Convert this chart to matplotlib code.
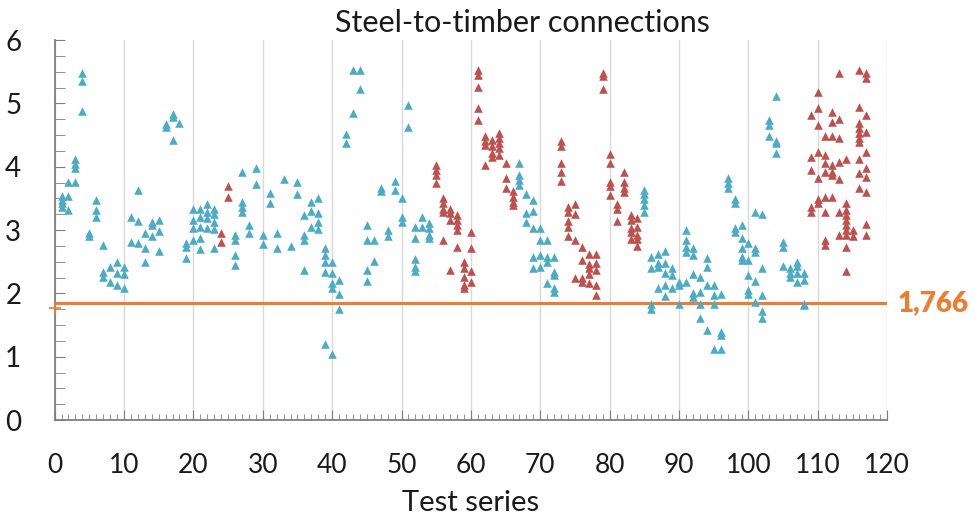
import matplotlib
matplotlib.use("Agg")
import matplotlib.pyplot as plt
from matplotlib.ticker import MultipleLocator

# ── Data: ratio per test series ──────────────────────────────────────
blue_points = {
    1: [3.54, 3.48, 3.42, 3.37], 2: [3.76, 3.54, 3.32], 3: [4.12, 4.05, 3.98, 3.76],
    4: [5.48, 5.36, 4.88], 5: [2.95, 2.91], 6: [3.47, 3.32, 3.20],
    7: [2.76, 2.34, 2.26], 8: [2.42, 2.18], 9: [2.50, 2.32, 2.14],
    10: [2.42, 2.30, 2.08], 11: [3.21, 2.82], 12: [3.63, 3.15, 2.79],
    13: [2.96, 2.72, 2.49], 14: [3.13, 3.08, 2.90], 15: [3.16, 2.99, 2.67],
    16: [4.68, 4.63], 17: [4.83, 4.78, 4.42], 18: [4.69],
    19: [2.79, 2.74, 2.56], 20: [3.33, 3.16, 3.03, 2.85],
    21: [3.34, 3.21, 3.05, 2.87, 2.70], 22: [3.41, 3.29, 3.19, 3.03],
    23: [3.34, 3.26, 3.13, 3.01, 2.72], 26: [2.92, 2.84, 2.61, 2.45],
    27: [3.92, 3.45, 3.37, 3.29], 28: [3.08, 2.96], 29: [3.98, 3.72],
    30: [2.92, 2.78], 31: [3.58, 3.43], 32: [2.95, 2.72], 33: [3.81],
    34: [2.75], 35: [3.76, 3.57], 36: [3.24, 2.92, 2.84, 2.37],
    37: [3.45, 3.30, 3.05], 38: [3.50, 3.27, 3.13, 3.02],
    39: [2.72, 2.61, 2.50, 2.34, 1.21], 40: [2.50, 2.32, 2.16, 2.08, 1.05],
    41: [2.21, 1.99, 1.75], 42: [4.52, 4.37], 43: [5.53, 4.85], 44: [5.53, 5.23],
    45: [3.08, 2.85, 2.37, 2.20], 46: [2.85, 2.51], 47: [3.66, 3.61],
    48: [3.00, 2.90], 49: [3.78, 3.63], 50: [3.50, 3.21, 3.12], 51: [4.97, 4.63],
    52: [3.05, 2.88, 2.55, 2.42, 2.35], 53: [3.21, 3.05],
    54: [3.11, 3.03, 2.92, 2.87], 67: [4.06, 3.87, 3.79, 3.71],
    68: [3.57, 3.27, 3.13], 69: [3.48, 3.30, 3.03, 2.58, 2.40],
    70: [3.03, 2.84, 2.61, 2.42], 71: [2.84, 2.58, 2.50, 2.16],
    72: [2.58, 2.34, 2.29, 2.08, 2.03], 85: [3.63, 3.57, 3.49, 3.40, 3.29],
    86: [2.58, 2.40, 1.83, 1.76], 87: [2.62, 2.48, 2.41, 2.08],
    88: [2.67, 2.48, 2.32, 2.13, 1.96], 89: [2.40, 2.29, 2.08],
    90: [2.18, 2.13, 1.83], 91: [3.00, 2.84, 2.74, 2.66, 2.18],
    92: [2.72, 2.60, 2.30, 2.00, 1.95], 93: [2.26, 2.02, 1.84, 1.62],
    94: [2.56, 2.41, 2.13, 1.42], 95: [2.13, 1.97, 1.84, 1.13],
    96: [1.99, 1.39, 1.34, 1.13], 97: [3.83, 3.75, 3.67],
    98: [3.49, 3.42, 3.04, 2.97], 99: [3.08, 2.88, 2.71, 2.58, 2.53],
    100: [2.79, 2.53, 2.29, 2.05, 1.99], 101: [3.28, 2.71, 2.65, 2.20, 1.87],
    102: [3.25, 2.40, 1.97, 1.72, 1.61], 103: [4.74, 4.66, 4.48],
    104: [5.12, 4.41, 4.37, 4.21], 105: [2.82, 2.74, 2.44],
    106: [2.40, 2.33, 2.26], 107: [2.49, 2.44, 2.32, 2.18],
    108: [2.33, 2.21, 1.84, 1.81],
}

red_points = {
    24: [2.95, 2.82], 25: [3.70, 3.53],
    55: [4.03, 3.95, 3.87, 3.74], 56: [3.50, 3.42, 3.34, 3.29, 2.84],
    57: [3.34, 3.27, 3.16, 2.37], 58: [3.24, 3.16, 3.08, 3.00, 2.74],
    59: [2.50, 2.40, 2.26, 2.13, 2.08], 60: [2.97, 2.72, 2.35, 2.18],
    61: [5.53, 5.45, 5.26, 4.93, 4.74], 62: [4.48, 4.40, 4.34, 4.03],
    63: [4.42, 4.32, 4.21, 4.16], 64: [4.53, 4.45, 4.37, 4.29, 4.19],
    65: [4.06, 3.83, 3.66], 66: [3.61, 3.53, 3.45, 3.39],
    73: [4.40, 4.33, 4.06, 3.91, 3.78], 74: [3.37, 3.29, 3.14, 3.05, 2.91],
    75: [3.41, 3.25, 2.84, 2.25], 76: [2.74, 2.53, 2.25, 2.18],
    77: [2.63, 2.46, 2.40, 2.30, 2.17], 78: [2.62, 2.48, 2.37, 2.13, 1.97],
    79: [5.48, 5.44, 5.23], 80: [4.20, 4.06, 3.76, 3.69, 3.55],
    81: [3.41, 3.33, 3.14], 82: [3.91, 3.76, 3.66, 3.60],
    83: [3.24, 3.16, 3.03, 2.97, 2.86], 84: [3.19, 3.05, 2.92, 2.86, 2.75],
    109: [4.82, 4.16, 3.95, 3.37, 3.29],
    110: [5.18, 4.92, 4.66, 4.24, 3.83, 3.49, 3.42],
    111: [4.48, 4.19, 4.06, 3.92, 3.53, 3.29, 2.84, 2.76],
    112: [4.86, 4.71, 4.48, 4.03, 3.91, 3.87, 3.53],
    113: [5.48, 4.76, 4.45, 4.08, 3.81, 3.29, 2.92],
    114: [4.13, 3.42, 3.32, 3.24, 3.16, 3.08, 3.00, 2.92, 2.74, 2.35],
    115: [3.00, 2.90],
    116: [5.53, 4.95, 4.69, 4.61, 4.53, 4.45, 4.39, 4.13, 3.90, 3.67],
    117: [5.48, 5.40, 4.81, 4.55, 4.24, 3.98, 3.84, 3.60, 3.09, 2.92],
}

threshold_label = "1,766"
threshold_marker = 1.766   # small mark on the y axis
threshold_line = 1.85      # where the horizontal line sits in the picture

BLUE = "#4BACC6"
RED = "#C0504D"
ORANGE = "#ED7D31"

plt.rcParams["font.family"] = ["Lato", "DejaVu Sans"]


def flatten(points):
    xs, ys = [], []
    for s, vals in points.items():
        xs += [s] * len(vals)
        ys += vals
    return xs, ys


fig = plt.figure(figsize=(9.75, 5.2), dpi=100)
ax = fig.add_axes([0.056, 0.192, 0.854, 0.731])

# vertical grid
ax.set_xlim(0, 120)
ax.set_ylim(0, 6)
ax.xaxis.set_major_locator(MultipleLocator(10))
ax.xaxis.set_minor_locator(MultipleLocator(1))
ax.yaxis.set_major_locator(MultipleLocator(1))
ax.yaxis.set_minor_locator(MultipleLocator(0.25))
ax.grid(axis="x", which="major", color="#D9D9D9", linewidth=1)
ax.set_axisbelow(True)

bx, by = flatten(blue_points)
rx, ry = flatten(red_points)
ax.scatter(bx, by, marker="^", s=38, color=BLUE, linewidths=0, zorder=3)
ax.scatter(rx, ry, marker="^", s=38, color=RED, linewidths=0, zorder=3)

ax.axhline(threshold_line, color=ORANGE, linewidth=2.2, zorder=2)
ax.plot([0], [threshold_marker], marker="+", color=ORANGE, markersize=8,
        markeredgewidth=1.2, clip_on=False, zorder=4)
ax.text(1.012, threshold_line, threshold_label, transform=ax.get_yaxis_transform(),
        color=ORANGE, fontsize=20, fontweight="heavy", va="center", ha="left")

# spines and ticks
for side in ["top", "right"]:
    ax.spines[side].set_visible(False)
ax.spines["left"].set_color("#7F7F7F")
ax.spines["bottom"].set_color("#7F7F7F")
ax.spines["left"].set_linewidth(1.3)
ax.spines["bottom"].set_linewidth(1.3)

ax.tick_params(axis="x", which="major", direction="in", length=7, color="#7F7F7F",
               labelsize=19, pad=24, labelcolor="#1A1A1A")
ax.tick_params(axis="x", which="minor", direction="in", length=4, color="#7F7F7F")
ax.tick_params(axis="y", which="both", direction="in", length=7, color="#7F7F7F",
               labelsize=20, pad=24, labelcolor="#1A1A1A")

ax.set_xlabel("Test series", fontsize=21, color="#1A1A1A", labelpad=8)
ax.set_title("Steel-to-timber connections", fontsize=22, color="#1A1A1A",
             x=0.562, pad=6)

fig.savefig("out.png", dpi=100, facecolor="white")
